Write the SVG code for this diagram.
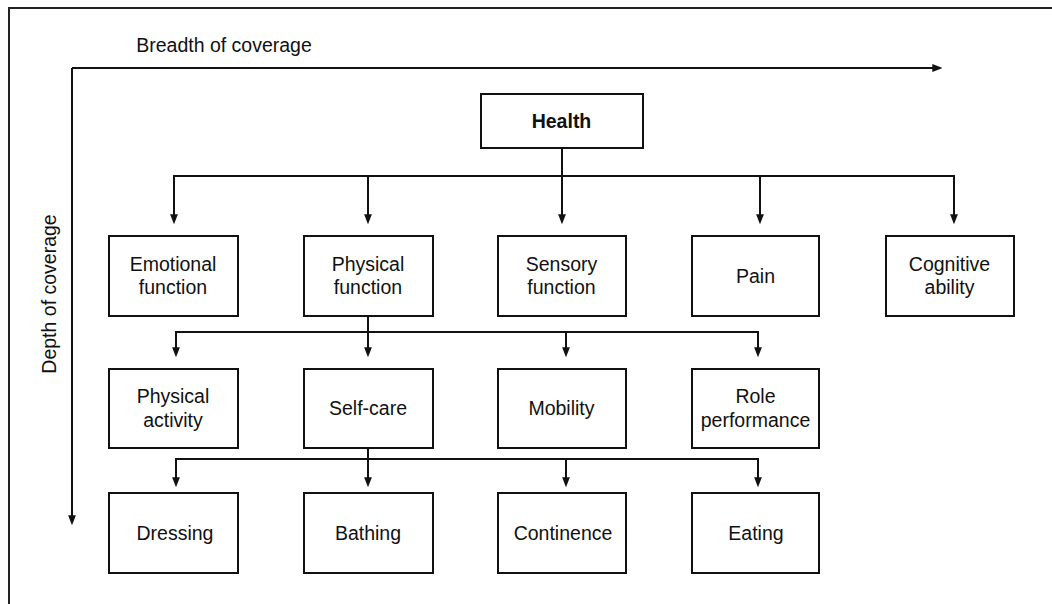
<svg xmlns="http://www.w3.org/2000/svg" width="1052" height="604" viewBox="0 0 1052 604">
<style>
  .box{fill:#fff;stroke:#111;stroke-width:2}
  .t{font-family:"Liberation Sans",Arial,Helvetica,sans-serif;font-size:19.5px;fill:#111;text-anchor:middle}
  .b{font-weight:bold}
  .c{fill:none;stroke:#111;stroke-width:2;stroke-linejoin:miter}
</style>
<defs>
  <marker id="ah" markerUnits="userSpaceOnUse" markerWidth="10" markerHeight="8" viewBox="0 0 9 7" refX="6" refY="3.5" orient="auto">
    <path d="M0,0 L9,3.5 L0,7 z" fill="#111"/>
  </marker>
</defs>
<rect width="1052" height="604" fill="#fff"/>
<g id="frame">
  <path d="M9,604 V8 H1052" fill="none" stroke="#222" stroke-width="2"/>
</g>
<g id="axes">
  <text class="t" x="224" y="52">Breadth of coverage</text>
  <path class="c" d="M72,68 H939" marker-end="url(#ah)"/>
  <path class="c" d="M72,68 V522" marker-end="url(#ah)"/>
  <text class="t" transform="translate(56,294) rotate(-90)">Depth of coverage</text>
</g>
<g id="connectors">
  <path class="c" d="M562,148 V176 H174 V221" marker-end="url(#ah)"/>
  <path class="c" d="M562,148 V176 H368 V221" marker-end="url(#ah)"/>
  <path class="c" d="M562,148 V221" marker-end="url(#ah)"/>
  <path class="c" d="M562,148 V176 H760 V221" marker-end="url(#ah)"/>
  <path class="c" d="M562,148 V176 H954 V221" marker-end="url(#ah)"/>
  <path class="c" d="M368,316 V332 H176 V354" marker-end="url(#ah)"/>
  <path class="c" d="M368,316 V354" marker-end="url(#ah)"/>
  <path class="c" d="M368,316 V332 H566 V354" marker-end="url(#ah)"/>
  <path class="c" d="M368,316 V332 H758 V354" marker-end="url(#ah)"/>
  <path class="c" d="M368,448 V459 H176 V484" marker-end="url(#ah)"/>
  <path class="c" d="M368,448 V484" marker-end="url(#ah)"/>
  <path class="c" d="M368,448 V459 H566 V484" marker-end="url(#ah)"/>
  <path class="c" d="M368,448 V459 H758 V484" marker-end="url(#ah)"/>
</g>
<g id="health">
  <rect class="box" x="481" y="94" width="162" height="54"/>
  <text class="t b" x="561.5" y="128">Health</text>
</g>
<g id="emotional">
  <rect class="box" x="109" y="236" width="129" height="80"/>
  <text class="t" x="173" y="270.5">Emotional</text>
  <text class="t" x="173" y="294">function</text>
</g>
<g id="physical-function">
  <rect class="box" x="304" y="236" width="129" height="80"/>
  <text class="t" x="368" y="270.5">Physical</text>
  <text class="t" x="368" y="294">function</text>
</g>
<g id="sensory">
  <rect class="box" x="498" y="236" width="128" height="80"/>
  <text class="t" x="561.5" y="270.5">Sensory</text>
  <text class="t" x="561.5" y="294">function</text>
</g>
<g id="pain">
  <rect class="box" x="692" y="236" width="127" height="80"/>
  <text class="t" x="755.5" y="282.5">Pain</text>
</g>
<g id="cognitive">
  <rect class="box" x="886" y="236" width="128" height="80"/>
  <text class="t" x="949.5" y="270.5">Cognitive</text>
  <text class="t" x="949.5" y="294">ability</text>
</g>
<g id="physical-activity">
  <rect class="box" x="109" y="369" width="129" height="79"/>
  <text class="t" x="173" y="403">Physical</text>
  <text class="t" x="173" y="426.5">activity</text>
</g>
<g id="self-care">
  <rect class="box" x="304" y="369" width="129" height="79"/>
  <text class="t" x="368" y="415">Self-care</text>
</g>
<g id="mobility">
  <rect class="box" x="498" y="369" width="128" height="79"/>
  <text class="t" x="561.5" y="415">Mobility</text>
</g>
<g id="role-performance">
  <rect class="box" x="692" y="369" width="127" height="79"/>
  <text class="t" x="755.5" y="403">Role</text>
  <text class="t" x="755.5" y="426.5">performance</text>
</g>
<g id="dressing">
  <rect class="box" x="109" y="493" width="129" height="80"/>
  <text class="t" x="175" y="539.5">Dressing</text>
</g>
<g id="bathing">
  <rect class="box" x="304" y="493" width="129" height="80"/>
  <text class="t" x="368" y="539.5">Bathing</text>
</g>
<g id="continence">
  <rect class="box" x="498" y="493" width="128" height="80"/>
  <text class="t" x="563" y="539.5">Continence</text>
</g>
<g id="eating">
  <rect class="box" x="692" y="493" width="127" height="80"/>
  <text class="t" x="756" y="539.5">Eating</text>
</g>
</svg>
